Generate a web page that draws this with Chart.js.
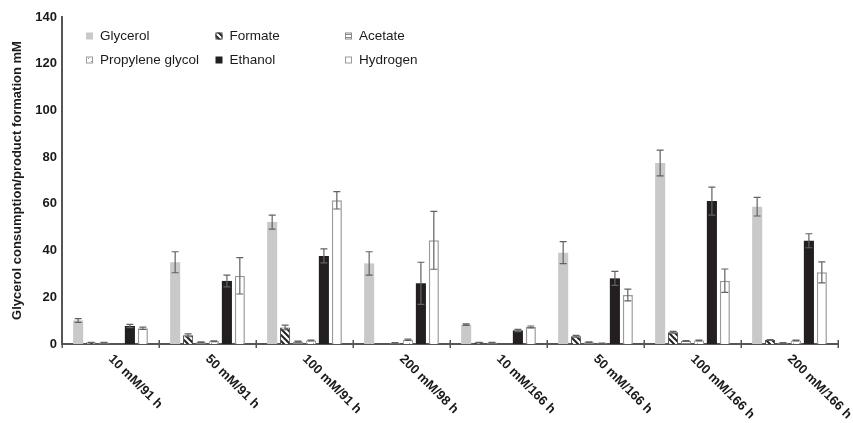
<!doctype html>
<html>
<head>
    <title>Glycerol consumption and product formation</title>
    <script src="https://cdn.jsdelivr.net/npm/chart.js"></script>
    <style>
        body { margin: 0; background: #fff; }
    </style>
</head>
<body>
    <canvas id="chart" width="853" height="423"></canvas>

    <script>
        // Data
        var groups = ['10 mM/91 h', '50 mM/91 h', '100 mM/91 h', '200 mM/98 h', '10 mM/166 h', '50 mM/166 h', '100 mM/166 h', '200 mM/166 h'];
        var glycerol        = [10.1, 35, 52.2, 34.5, 8.3, 39.1, 77.5, 58.8];
        var glycerolErr     = [0.8, 4.5, 3, 5, 0.3, 4.7, 5.5, 4];
        var formate         = [0.6, 3.7, 7.1, 0, 0.6, 3.3, 5, 1.7];
        var formateErr      = [0.1, 0.6, 1, 0, 0.1, 0.4, 0.4, 0.2];
        var acetate         = [0.6, 0.8, 1, 0.5, 0.6, 0.8, 1.3, 0.5];
        var acetateErr      = [0.1, 0.1, 0.2, 0.1, 0.1, 0.1, 0.2, 0.1];
        var propyleneGlycol = [0, 1.2, 1.5, 1.8, 0, 0.3, 1.5, 1.5];
        var propyleneErr    = [0, 0.2, 0.2, 0.3, 0, 0.1, 0.2, 0.2];
        var ethanol         = [7.7, 27, 37.7, 26, 5.8, 28.1, 61.2, 44.2];
        var ethanolErr      = [0.7, 2.5, 3, 9, 0.5, 3, 6, 3];
        var hydrogen        = [6.7, 29.2, 61.5, 44.4, 7.3, 21, 27.1, 30.7];
        var hydrogenErr     = [0.5, 7.8, 3.7, 12.4, 0.4, 2.5, 5, 4.5];
        var yTicks = [0, 20, 40, 60, 80, 100, 120, 140];

        var FONT = "'Liberation Sans', Arial, sans-serif";
        Chart.defaults.font.family = FONT;

        // small canvas patterns for the hatched bars
        function makePattern(draw) {
            var c = document.createElement('canvas');
            c.width = 6; c.height = 6;
            var g = c.getContext('2d');
            g.fillStyle = '#fff';
            g.fillRect(0, 0, 6, 6);
            draw(g);
            return g.createPattern(c, 'repeat');
        }
        var hatchDiag = makePattern(function(g){
            g.strokeStyle = '#222'; g.lineWidth = 2;
            g.beginPath();
            g.moveTo(-1, -1); g.lineTo(7, 7);
            g.moveTo(-4, 2); g.lineTo(4, 10);
            g.moveTo(2, -4); g.lineTo(10, 4);
            g.stroke();
        });
        var hatchHoriz = makePattern(function(g){
            g.fillStyle = '#8a8a8a';
            g.fillRect(0, 1, 6, 1);
            g.fillRect(0, 4, 6, 1);
        });
        var hatchDots = makePattern(function(g){
            g.fillStyle = '#9a9a9a';
            g.fillRect(1, 1, 1, 1);
            g.fillRect(4, 4, 1, 1);
        });

        var errors = [glycerolErr, formateErr, acetateErr, propyleneErr, ethanolErr, hydrogenErr];

        // error bars drawn from the y scale
        var errorBars = {
            id: 'errorBars',
            afterDatasetsDraw: function(chart) {
                var ctx = chart.ctx, y = chart.scales.y;
                ctx.save();
                ctx.strokeStyle = '#626262';
                ctx.lineWidth = 1.2;
                chart.data.datasets.forEach(function(ds, i) {
                    var meta = chart.getDatasetMeta(i);
                    meta.data.forEach(function(bar, j) {
                        var e = errors[i][j];
                        if (!e) return;
                        var v = ds.data[j];
                        var top = y.getPixelForValue(v + e), bot = y.getPixelForValue(Math.max(0, v - e));
                        ctx.beginPath();
                        ctx.moveTo(bar.x, top); ctx.lineTo(bar.x, bot);
                        ctx.moveTo(bar.x - 3.5, top); ctx.lineTo(bar.x + 3.5, top);
                        ctx.moveTo(bar.x - 3.5, bot); ctx.lineTo(bar.x + 3.5, bot);
                        ctx.stroke();
                    });
                });
                ctx.restore();
            }
        };

        // rotated category labels, going down to the right, and tick marks crossing the axis
        var xLabels = {
            id: 'xLabels',
            afterDraw: function(chart) {
                var ctx = chart.ctx, x = chart.scales.x;
                ctx.save();
                ctx.strokeStyle = '#555';
                ctx.lineWidth = 1.5;
                ctx.beginPath();
                for (var k = 0; k <= groups.length; k++) {
                    var px = Math.round(x.getPixelForValue(k - 0.5)) + 0.25;
                    ctx.moveTo(px, x.top - 4); ctx.lineTo(px, x.top + 4);
                }
                ctx.stroke();

                ctx.font = 'bold 13px ' + FONT;
                ctx.fillStyle = '#1a1a1a';
                ctx.textAlign = 'left';
                ctx.textBaseline = 'middle';
                groups.forEach(function(lbl, i) {
                    ctx.save();
                    ctx.translate(x.getPixelForValue(i), x.top + 13);
                    ctx.rotate(Math.PI / 4);
                    ctx.fillText(lbl, 0, 0);
                    ctx.restore();
                });
                ctx.restore();
            }
        };

        // legend inside the plot, three columns
        var gridLegend = {
            id: 'gridLegend',
            afterDraw: function(chart) {
                var ctx = chart.ctx, area = chart.chartArea;
                ctx.save();
                ctx.font = '13.5px ' + FONT;
                ctx.textBaseline = 'middle';
                chart.data.datasets.forEach(function(ds, i) {
                    var col = i % 3, row = Math.floor(i / 3);
                    var bx = area.left + 24 + col * 129.5, by = area.top + 19 + row * 24;
                    ctx.fillStyle = ds.backgroundColor;
                    ctx.fillRect(bx, by - 3.5, 7, 7);
                    if (ds.borderWidth) {
                        ctx.strokeStyle = ds.borderColor;
                        ctx.lineWidth = 1;
                        ctx.strokeRect(bx + 0.5, by - 3, 6, 6);
                    }
                    ctx.fillStyle = '#1a1a1a';
                    ctx.fillText(ds.label, bx + 14, by);
                });
                ctx.restore();
            }
        };

        var ctx = document.getElementById('chart').getContext('2d');
        var chart = new Chart(ctx, {
            type: 'bar',
            data: {
                labels: groups,
                datasets: [
                    { label: 'Glycerol', data: glycerol, backgroundColor: '#c9c9c9', borderWidth: 0 },
                    { label: 'Formate', data: formate, backgroundColor: hatchDiag, borderColor: '#444', borderWidth: 1 },
                    { label: 'Acetate', data: acetate, backgroundColor: hatchHoriz, borderColor: '#8a8a8a', borderWidth: 1 },
                    { label: 'Propylene glycol', data: propyleneGlycol, backgroundColor: hatchDots, borderColor: '#9a9a9a', borderWidth: 1 },
                    { label: 'Ethanol', data: ethanol, backgroundColor: '#231f20', borderWidth: 0 },
                    { label: 'Hydrogen', data: hydrogen, backgroundColor: '#ffffff', borderColor: '#9a9a9a', borderWidth: 1.5 }
                ]
            },
            plugins: [errorBars, xLabels, gridLegend],
            options: {
                responsive: false,
                animation: false,
                layout: { padding: { top: 17, right: 15, left: 0, bottom: 0 } },
                datasets: { bar: { categoryPercentage: 0.8, barPercentage: 0.78 } },
                plugins: {
                    legend: { display: false },
                    tooltip: { enabled: false }
                },
                scales: {
                    x: {
                        grid: { display: false },
                        border: { display: true, color: '#555', width: 2 },
                        ticks: { display: false },
                        afterFit: function(scale) { scale.height = 79; }
                    },
                    y: {
                        min: 0,
                        max: 140,
                        afterBuildTicks: function(scale) { scale.ticks = yTicks.map(function(v){ return { value: v }; }); },
                        grid: { display: false, drawTicks: false },
                        border: { display: true, color: '#555', width: 2 },
                        ticks: { color: '#1a1a1a', font: { size: 13, weight: 'bold' }, padding: 5 },
                        title: {
                            display: true,
                            text: 'Glycerol consumption/product formation mM',
                            color: '#1a1a1a',
                            font: { size: 13, weight: 'bold' },
                            padding: { top: 10, bottom: 0 }
                        },
                        afterFit: function(scale) { scale.width = 62; }
                    }
                }
            }
        });
    </script>
</body>
</html>
